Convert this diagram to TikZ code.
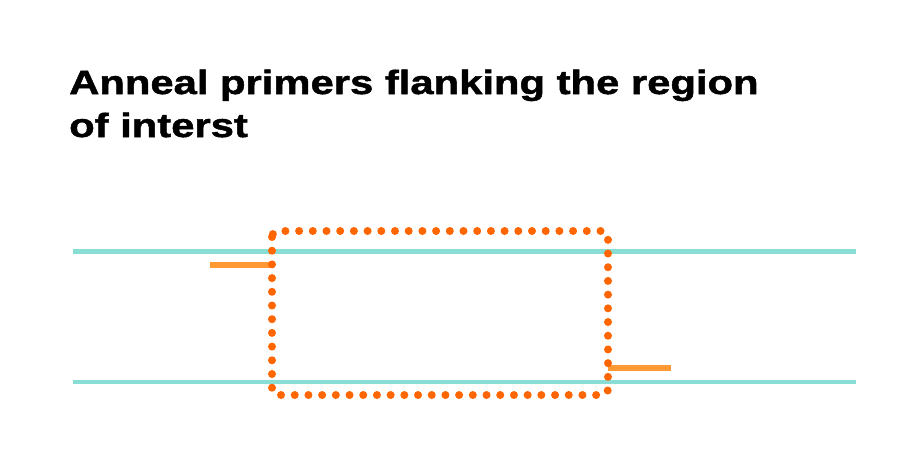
\documentclass[tikz,border=0pt]{standalone}
\usepackage{fontspec}
\setmainfont{Liberation Sans}
\newfontfamily\titlefont[FakeStretch=1.247,FakeBold=1.5]{Liberation Sans Bold}
\definecolor{strand}{HTML}{88DDD5}
\definecolor{primer}{HTML}{FF9933}
\definecolor{box}{HTML}{FF6600}
\begin{document}
\begin{tikzpicture}[x=1pt,y=-1pt,
  strandline/.style={draw=strand,line width=4.5pt},
  primerline/.style={draw=primer,line width=5.5pt},
  dotbox/.style={draw=box,line width=8pt,line cap=round,dash pattern=on 0pt off 13.7pt,rounded corners=6pt},
  title/.style={anchor=base west,inner sep=0pt,font=\titlefont\fontsize{33.5}{43}\selectfont}]
\useasboundingbox[fill=white] (0,0) rectangle (899,456);
\node[title] (t1) at (69,94) {Anneal primers flanking the region};
\node[title] (t2) at (69,137) {of interst};
\coordinate (s1a) at (73,251.5);
\coordinate (s1b) at (856,251.5);
\coordinate (s2a) at (73,382);
\coordinate (s2b) at (856,382);
\draw[strandline] (s1a) -- (s1b);
\draw[strandline] (s2a) -- (s2b);
\coordinate (p1a) at (210,265);
\coordinate (p1b) at (273,265);
\coordinate (p2a) at (608,368);
\coordinate (p2b) at (671,368);
\draw[primerline] (p1a) -- (p1b);
\draw[primerline] (p2a) -- (p2b);
\coordinate (b1) at (272,231);
\coordinate (b2) at (608,395);
\draw[dotbox] (b1) rectangle (b2);
\end{tikzpicture}
\end{document}
